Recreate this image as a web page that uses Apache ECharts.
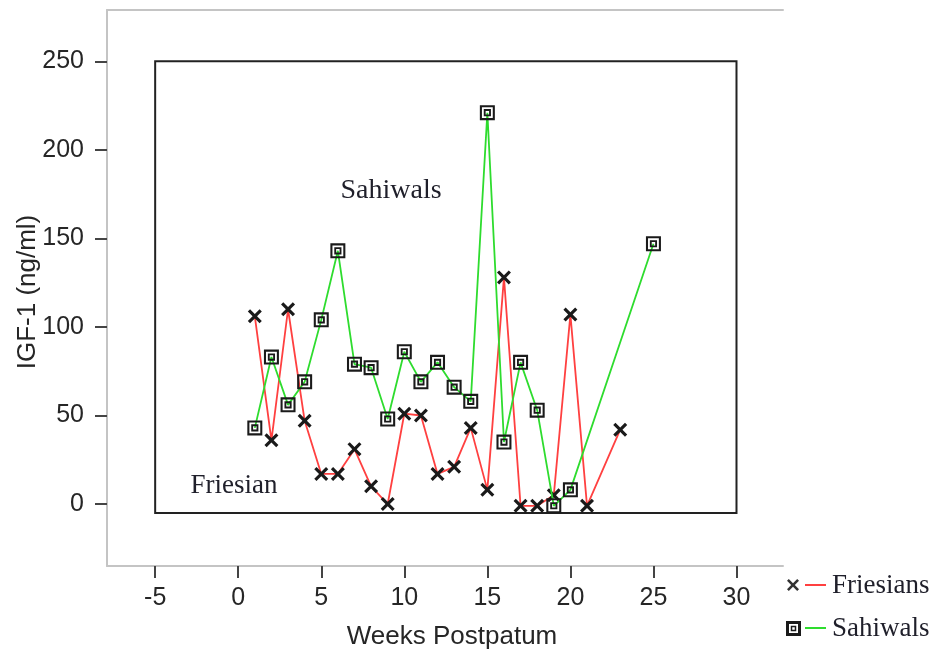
<!DOCTYPE html>
<html>
<head>
<meta charset="utf-8">
<script src="https://cdn.jsdelivr.net/npm/echarts@6/dist/echarts.min.js"></script>
<style>html,body{margin:0;padding:0;background:#fff;}#c{width:935px;height:657px;}</style>
</head>
<body>
<div id="c"></div>
<script>
// ---- data ----
const weeksF = [1,2,3,4,5,6,7,8,9,10,11,12,13,14,15,16,17,18,19,20,21,23];
const friesians = [106,36,110,47,17,17,31,10,0,51,50,17,21,43,8,128,-1,-1,5,107,-1,42];
const weeksS = [1,2,3,4,5,6,7,8,9,10,11,12,13,14,15,16,17,18,19,20,25];
const sahiwals = [43,83,56,69,104,143,79,77,48,86,69,80,66,58,221,35,80,53,-1,8,147];
const xTicks = [-5,0,5,10,15,20,25,30];
const yTicks = [0,50,100,150,200,250];
const seriesNames = ['Friesians','Sahiwals'];
const seriesColors = ['#ff4040','#2edc2e'];

const X_PATH = 'path://M0,1.6L1.6,0L5,3.4L8.4,0L10,1.6L6.6,5L10,8.4L8.4,10L5,6.6L1.6,10L0,8.4L3.4,5Z';
const SQ_PATH = 'path://M0,0H13V13H0Z M1.8,1.8V11.2H11.2V1.8Z M3.4,3.4H9.6V9.6H3.4Z M5,5V8H8V5Z';
const X_PTS = [[0,1.8],[1.8,0],[6,4.2],[10.2,0],[12,1.8],[7.8,6],[12,10.2],[10.2,12],[6,7.8],[1.8,12],[0,10.2],[4.2,6]];

const chart = echarts.init(document.getElementById('c'));
const axisGray = '#c4c4c4';
const tickColor = '#444';
const textColor = '#262626';
const labelFont = 'Liberation Sans, Arial, sans-serif';
const serif = 'Liberation Serif, Times New Roman, serif';

chart.setOption({
  animation: false,
  backgroundColor: '#fff',
  grid: { left: 107, right: 152, top: 10, bottom: 91, containLabel: false, outerBoundsMode: 'none' },
  xAxis: [{
    type: 'value', min: -7.9, max: 32.8, position: 'bottom',
    name: 'Weeks Postpatum', nameLocation: 'middle', nameGap: 58, nameMoveOverlap: false,
    nameTextStyle: { fontFamily: labelFont, fontSize: 26, color: textColor, padding: [0,0,0,14] },
    axisLine: { show: true, onZero: false, lineStyle: { color: axisGray, width: 2 } },
    axisTick: { show: true, length: 12, customValues: xTicks, lineStyle: { color: tickColor, width: 2 } },
    axisLabel: { customValues: xTicks, margin: 20, fontFamily: labelFont, fontSize: 25, color: textColor },
    splitLine: { show: false }
  }, {
    type: 'value', min: -7.9, max: 32.8, position: 'top',
    axisLine: { show: true, onZero: false, lineStyle: { color: axisGray, width: 2 } },
    axisTick: { show: false }, axisLabel: { show: false }, splitLine: { show: false }
  }],
  yAxis: {
    type: 'value', min: -35, max: 279,
    name: 'IGF-1 (ng/ml)', nameLocation: 'middle', nameGap: 66, nameRotate: 90, nameMoveOverlap: false,
    nameTextStyle: { fontFamily: labelFont, fontSize: 26, color: textColor, padding: [0,8,0,0] },
    axisLine: { show: true, onZero: false, lineStyle: { color: axisGray, width: 2 } },
    axisTick: { show: true, length: 12, customValues: yTicks, lineStyle: { color: tickColor, width: 2 } },
    axisLabel: { customValues: yTicks, margin: 23, fontFamily: labelFont, fontSize: 25, color: textColor },
    splitLine: { show: false }
  },
  series: [{
    name: seriesNames[0], type: 'line',
    data: weeksF.map((w, i) => [w, friesians[i]]),
    symbol: X_PATH, symbolSize: 14,
    lineStyle: { color: seriesColors[0], width: 1.8 },
    itemStyle: { color: '#1a1a1a' },
    z: 3,
    markArea: {
      silent: true,
      itemStyle: { color: 'rgba(0,0,0,0)', borderColor: '#222', borderWidth: 2 },
      data: [[{ coord: [-5, -5] }, { coord: [30, 250] }]]
    }
  }, {
    name: seriesNames[1], type: 'line',
    data: weeksS.map((w, i) => [w, sahiwals[i]]),
    symbol: SQ_PATH, symbolSize: 15,
    lineStyle: { color: seriesColors[1], width: 1.8 },
    itemStyle: { color: '#1a1a1a' },
    z: 4
  }],
  graphic: [
    { type: 'text', x: 391, y: 191, style: { text: 'Sahiwals', font: '28px ' + serif, fill: '#1f1f2a', textAlign: 'center', textVerticalAlign: 'middle' } },
    { type: 'text', x: 234, y: 486, style: { text: 'Friesian', font: '27px ' + serif, fill: '#1f1f2a', textAlign: 'center', textVerticalAlign: 'middle' } },
    { type: 'polygon', x: 787, y: 579, shape: { points: X_PTS }, style: { fill: '#333' } },
    { type: 'line', shape: { x1: 805, y1: 585, x2: 826, y2: 585 }, style: { stroke: seriesColors[0], lineWidth: 2 } },
    { type: 'text', x: 832, y: 586, style: { text: seriesNames[0], font: '27px ' + serif, fill: '#1f1f2a', textAlign: 'left', textVerticalAlign: 'middle' } },
    { type: 'rect', shape: { x: 787.5, y: 622.5, width: 12, height: 12 }, style: { fill: '#fff', stroke: '#1a1a1a', lineWidth: 3 } },
    { type: 'rect', shape: { x: 791.5, y: 626.5, width: 4, height: 4 }, style: { fill: '#fff', stroke: '#1a1a1a', lineWidth: 1.5 } },
    { type: 'line', shape: { x1: 805, y1: 628, x2: 826, y2: 628 }, style: { stroke: seriesColors[1], lineWidth: 2 } },
    { type: 'text', x: 832, y: 629, style: { text: seriesNames[1], font: '27px ' + serif, fill: '#1f1f2a', textAlign: 'left', textVerticalAlign: 'middle' } }
  ]
});
</script>
</body>
</html>
